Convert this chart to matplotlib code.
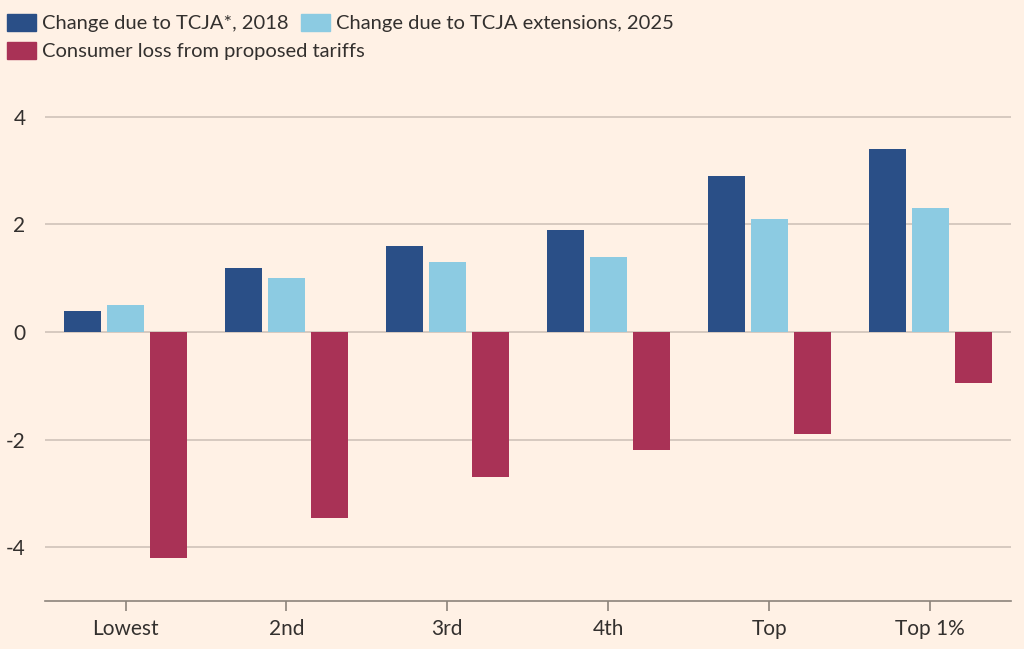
import numpy as np
import matplotlib.pyplot as plt
from matplotlib.patches import Patch

categories = ["Lowest", "2nd", "3rd", "4th", "Top", "Top 1%"]
tcja_2018 = [0.4, 1.2, 1.6, 1.9, 2.9, 3.4]
tcja_ext_2025 = [0.5, 1.0, 1.3, 1.4, 2.1, 2.3]
tariff_loss = [-4.2, -3.45, -2.7, -2.2, -1.9, -0.95]
yticks = [-4, -2, 0, 2, 4]

bg = "#FFF1E5"
dark = "#2A4F87"
light = "#8CCBE2"
red = "#A93256"
grid = "#CFC3B9"
text = "#33302E"

plt.rcParams['font.family'] = ['Lato', 'DejaVu Sans']

fig = plt.figure(figsize=(10.24, 6.49), dpi=100, facecolor=bg)
ax = fig.add_axes([0.044, 0.074, 0.943, 0.779])
ax.set_facecolor(bg)

x = np.arange(len(categories))
w = 0.23
off = 0.267
ax.bar(x - off, tcja_2018, w, color=dark, zorder=3)
ax.bar(x, tcja_ext_2025, w, color=light, zorder=3)
ax.bar(x + off, tariff_loss, w, color=red, zorder=3)

ax.set_xlim(-0.5, 5.5)
ax.set_ylim(-5, 4.4)
ax.set_yticks(yticks)
ax.set_yticklabels([str(v) for v in yticks])
ax.yaxis.grid(True, color=grid, linewidth=1.2, zorder=0)
ax.tick_params(axis='y', length=0, pad=14, labelsize=15, labelcolor=text)
ax.set_xticks(x)
ax.set_xticklabels(categories)
ax.tick_params(axis='x', length=7, width=1.2, color="#8C837B", pad=6,
               labelsize=15, labelcolor=text)
for s in ['top', 'right', 'left']:
    ax.spines[s].set_visible(False)
ax.spines['bottom'].set_color("#8C837B")
ax.spines['bottom'].set_linewidth(1.2)

# two legend rows, the second entry follows the first on the same line
leg_kw = dict(frameon=False, fontsize=14.5, handlelength=1.45, handleheight=0.9,
              handletextpad=0.3, columnspacing=0.6, labelcolor=text,
              borderpad=0, borderaxespad=0, loc='center left')
row1 = [Patch(color=dark, label="Change due to TCJA*, 2018"),
        Patch(color=light, label="Change due to TCJA extensions, 2025")]
row2 = [Patch(color=red, label="Consumer loss from proposed tariffs")]
fig.legend(handles=row1, ncol=2, bbox_to_anchor=(0.007, 1 - 23 / 649), **leg_kw)
fig.legend(handles=row2, ncol=1, bbox_to_anchor=(0.007, 1 - 51 / 649), **leg_kw)

fig.savefig("out.png", dpi=100, facecolor=bg)
